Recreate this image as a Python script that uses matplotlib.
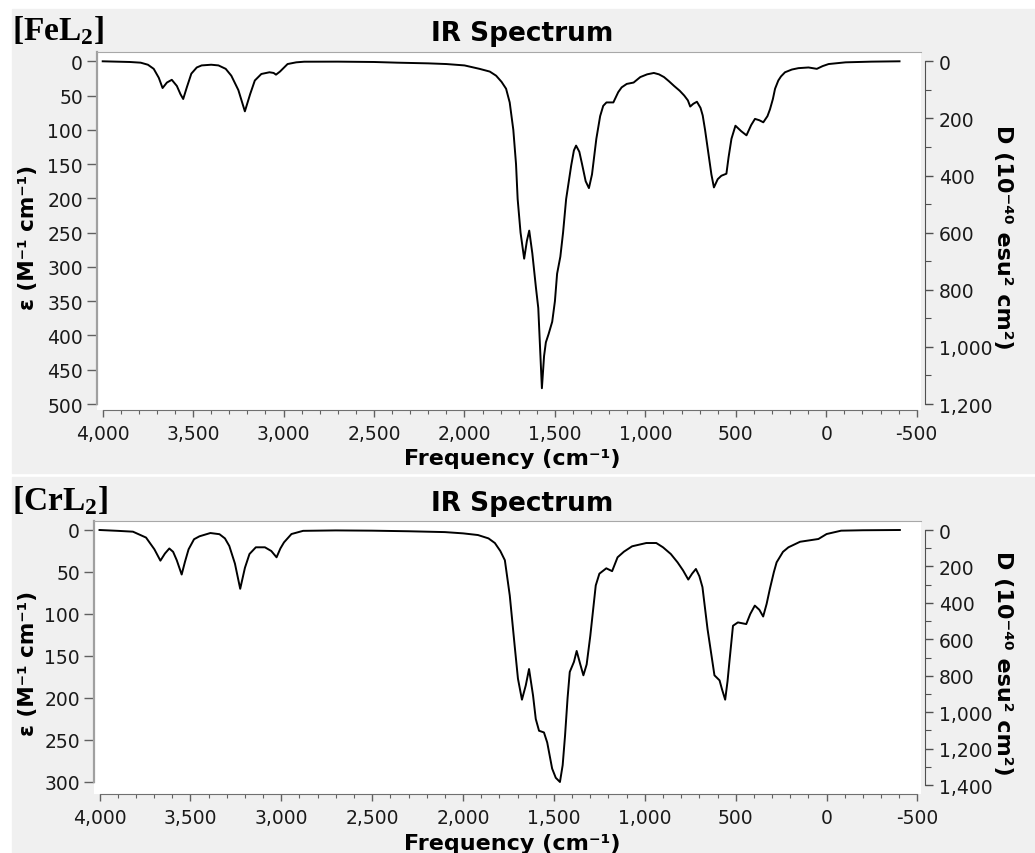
import matplotlib

matplotlib.use("Agg")
import matplotlib.pyplot as plt  # noqa: E402
from matplotlib.patches import Rectangle  # noqa: E402
from matplotlib.ticker import FuncFormatter, MultipleLocator  # noqa: E402

W, H = 1035, 854

# [FeL2]: frequency (cm-1) and epsilon (M-1 cm-1)
fe_freq = [4000, 3850, 3790, 3750, 3718, 3690, 3669, 3645, 3618, 3590, 3570,
           3555, 3535, 3510, 3480, 3453, 3400, 3360, 3320, 3289, 3250, 3214,
           3185, 3159, 3123, 3078, 3055, 3042, 3020, 2978, 2930, 2886, 2700,
           2500, 2372, 2200, 2100, 2000, 1917, 1860, 1825, 1795, 1770, 1750,
           1730, 1715, 1706, 1690, 1670, 1655, 1642, 1625, 1605, 1592, 1582,
           1572, 1560, 1550, 1535, 1515, 1500, 1488, 1470, 1455, 1438, 1410,
           1395, 1383, 1365, 1350, 1330, 1312, 1295, 1271, 1250, 1233, 1215,
           1177, 1150, 1131, 1103, 1065, 1028, 990, 953, 925, 897, 870, 841,
           810, 785, 765, 752, 735, 715, 695, 683, 670, 655, 635, 621, 600,
           580, 552, 540, 524, 502, 470, 441, 415, 394, 370, 348, 325, 311,
           295, 283, 265, 250, 228, 190, 154, 98, 52, 20, -13, -107, -250,
           -405]
fe_eps = [0, 1, 2, 5, 11, 24, 39, 31, 27, 36, 48,
          55, 38, 18, 9, 6, 5, 6, 11, 21, 42, 73,
          48, 28, 18.5, 16, 17, 19.5, 15, 4, 1.5, 0.6, 0.5,
          1, 2, 3, 4, 6, 11, 15, 21, 30, 40, 60,
          100, 150, 201, 250, 288, 262, 247, 280, 330, 360, 420,
          477, 430, 410, 398, 380, 350, 310, 285, 250, 201, 152,
          130, 123, 132, 150, 175, 185, 165, 113, 80, 65, 60,
          60, 45, 38, 33, 31, 23, 19, 17, 19, 23, 29, 36,
          43, 50, 57, 66, 62, 59, 68, 79, 100, 128, 165, 184, 172,
          167, 164, 140, 113, 94, 102, 108, 93, 84, 86, 89, 80, 70,
          55, 40, 28, 22, 16, 12, 10, 9, 11, 7, 4, 1.5, 0.5,
          0]

# [CrL2]
cr_freq = [4000, 3900, 3816, 3744, 3698, 3665, 3640, 3616, 3595, 3575, 3548,
           3530, 3510, 3480, 3450, 3390, 3340, 3310, 3286, 3255, 3226, 3200,
           3175, 3140, 3090, 3055, 3026, 3005, 2985, 2944, 2880, 2700, 2500,
           2300, 2100, 2000, 1918, 1860, 1825, 1795, 1770, 1743, 1716, 1698,
           1676, 1655, 1637, 1615, 1600, 1582, 1555, 1537, 1510, 1490, 1467,
           1452, 1439, 1425, 1413, 1390, 1375, 1355, 1338, 1320, 1300, 1270,
           1250, 1212, 1180, 1150, 1115, 1070, 992, 937, 900, 857, 820, 790,
           761, 740, 719, 700, 683, 655, 617, 589, 575, 558, 545, 535, 515,
           488, 442, 420, 395, 370, 349, 330, 312, 290, 275, 240, 210, 146,
           45, 0, -80, -200, -403]
cr_eps = [0, 1, 2, 9, 23, 36.5, 28, 22, 26, 36, 53,
          38, 23, 11, 7.5, 3.6, 5, 10, 19, 40, 70, 45,
          28.6, 20.6, 20.6, 25, 32.5, 22, 14.7, 4.8, 1, 0.5, 0.8,
          1.5, 2.5, 4, 6, 10, 15.5, 25, 36, 78, 138, 177,
          202, 185, 165.5, 197, 225, 239, 241, 253, 284, 295, 300,
          280, 245, 200, 169, 157, 144, 160, 173, 160, 126, 66,
          52, 45.6, 49, 32.5, 25.8, 19.4, 15.5, 15.5, 20.6, 28.6, 38.5, 48,
          59, 52, 46.4, 55, 68, 118, 173, 179, 190, 202, 180, 157.5, 114,
          110, 112, 100, 90, 95, 103, 88, 70, 50, 38.5, 26, 20.6, 14,
          10.7, 4.8, 0.8, 0.3, 0]

plt.rcParams["font.family"] = "DejaVu Sans"
plt.rcParams["mathtext.fontset"] = "custom"
plt.rcParams["mathtext.rm"] = "Liberation Serif:bold"
plt.rcParams["mathtext.it"] = "Liberation Serif:bold"
plt.rcParams["mathtext.bf"] = "Liberation Serif:bold"

BG = "#f0f0f0"
comma = FuncFormatter(lambda v, _: f"{v:,.0f}")


def fbox(l, t, r, b):
    return [l / W, 1 - b / H, (r - l) / W, (b - t) / H]


def fxy(x, y):
    return x / W, 1 - y / H


def panel(fig, freq, eps, name, box, xlim, ylim, ymax, dlim, dmax, off):
    ax = fig.add_axes(fbox(*box))
    ax.set_facecolor("white")
    ax.plot(freq, eps, color="black", lw=1.4, solid_joinstyle="round")
    ax.set_xlim(xlim)
    ax.set_ylim(ylim)

    ax.xaxis.set_major_locator(MultipleLocator(500))
    ax.xaxis.set_minor_locator(MultipleLocator(100))
    ax.xaxis.set_major_formatter(comma)
    ax.yaxis.set_major_locator(MultipleLocator(50))

    ax.spines["right"].set_visible(False)
    ax.spines["top"].set_color("#a8a8a8")
    ax.spines["left"].set_color("#a0a0a0")
    ax.spines["left"].set_linewidth(1.6)
    ax.spines["left"].set_bounds(ylim[1], ymax)
    ax.spines["bottom"].set_color("#707070")
    ax.spines["bottom"].set_bounds(4000, -500)

    ax.tick_params(axis="y", direction="out", length=7, width=1,
                   color="#606060", labelsize=13.5, pad=3,
                   labelcolor="#1a1a1a")
    ax.tick_params(axis="x", which="major", direction="out", length=5,
                   width=1, color="#606060", labelsize=13.5, pad=5,
                   labelcolor="#1a1a1a")
    ax.tick_params(axis="x", which="minor", direction="out", length=3,
                   width=0.8, color="#606060")

    # dipole strength scale on the right
    ax2 = ax.twinx()
    ax2.set_ylim(dlim)
    for s in ("top", "left", "bottom"):
        ax2.spines[s].set_visible(False)
    ax2.spines["right"].set_position(("outward", 3))
    ax2.spines["right"].set_bounds(0, dmax)
    ax2.spines["right"].set_color("#505050")
    ax2.yaxis.set_major_locator(MultipleLocator(200))
    ax2.yaxis.set_minor_locator(MultipleLocator(100))
    ax2.yaxis.set_major_formatter(comma)
    ax2.tick_params(axis="y", which="major", direction="out", length=6,
                    width=1, color="#505050", labelsize=13.5, pad=4,
                    labelcolor="#1a1a1a")
    ax2.tick_params(axis="y", which="minor", direction="out", length=4,
                    width=0.8, color="#505050")

    fig.text(*fxy(12, 40 + off), name, fontsize=24, ha="left", va="baseline")
    fig.text(*fxy(522, 41 + off), "IR Spectrum", fontsize=19,
             fontweight="bold", ha="center", va="baseline")
    fig.text(*fxy(512, 459 + off * 0.82), "Frequency (cm⁻¹)", fontsize=16,
             fontweight="bold", ha="center", va="center")
    fig.text(*fxy(28, (box[1] + box[3]) / 2 + 5), "ε (M⁻¹ cm⁻¹)",
             fontsize=15.5, fontweight="bold", rotation=90,
             ha="center", va="center")
    fig.text(*fxy(1003, (box[1] + box[3]) / 2 + 5), "D (10⁻⁴⁰ esu² cm²)",
             fontsize=16, fontweight="bold", rotation=270,
             ha="center", va="center")
    return ax


fig = plt.figure(figsize=(W / 100, H / 100), dpi=100, facecolor="white")
fig.add_artist(Rectangle(fxy(12, 474), (W - 12) / W, 464 / H,
                         transform=fig.transFigure, color=BG, zorder=0))
fig.add_artist(Rectangle(fxy(12, 854), (W - 12) / W, 376 / H,
                         transform=fig.transFigure, color=BG, zorder=0))

panel(fig, fe_freq, fe_eps, r"$\mathrm{[FeL_2]}$",
      (97, 53, 921, 411), (4031.5, -523.8), (508.75, -13.57), 500,
      (1221, -32.6), 1200, 0)
panel(fig, cr_freq, cr_eps, r"$\mathrm{[CrL_2]}$",
      (94, 521.7, 921, 795), (4030.3, -519.3), (314.3, -11.07), 300,
      (1449.4, -51.1), 1400, 470)

fig.savefig("out.png", dpi=100, facecolor=fig.get_facecolor())
